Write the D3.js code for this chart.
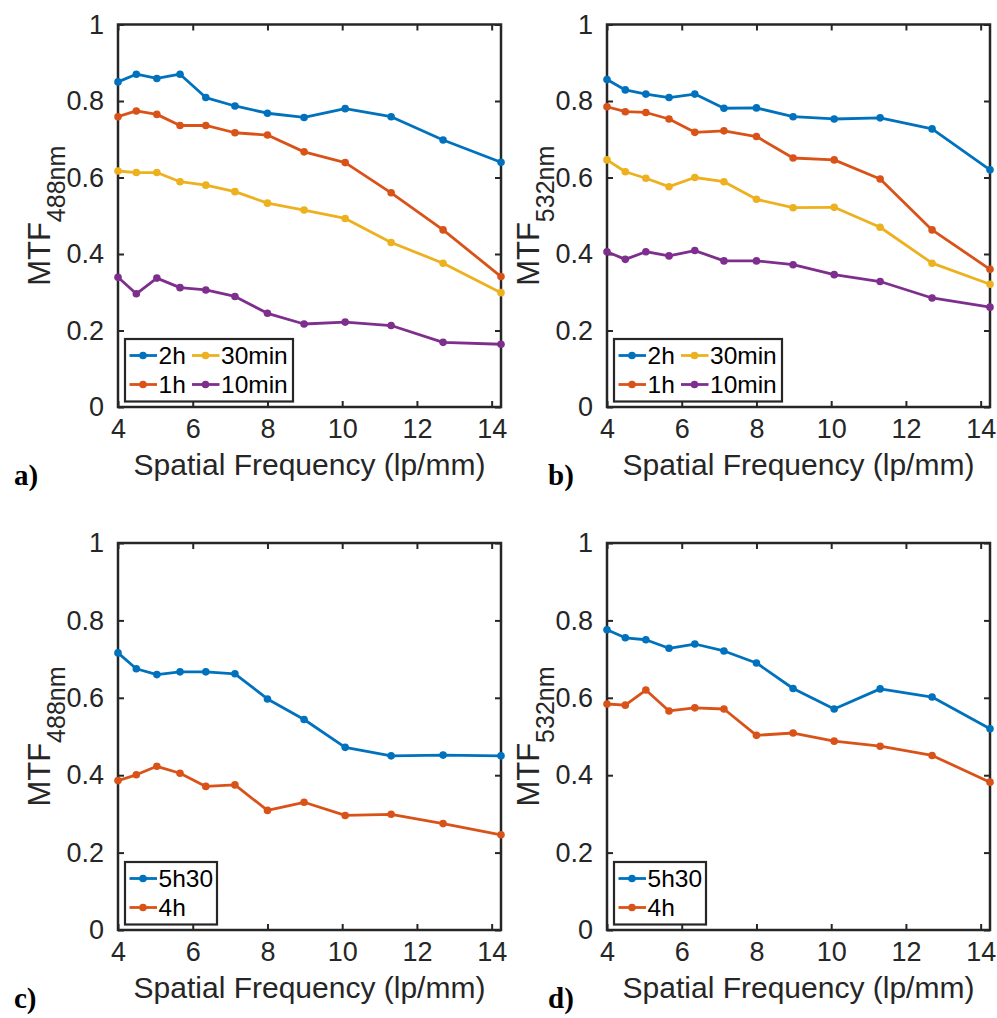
<!DOCTYPE html>
<html>
<head>
<meta charset="utf-8">
<script src="https://cdn.jsdelivr.net/npm/d3@7"></script>
<style>
  html, body { margin: 0; padding: 0; background: #ffffff; }
  svg { display: block; }
</style>
</head>
<body>
<svg id="fig" width="997" height="1018"></svg>
<script>
// Spatial frequencies of the USAF target elements (lp/mm)
const freq = [4, 4.49, 5.04, 5.66, 6.35, 7.13, 8, 8.98, 10.08, 11.31, 12.7, 14.25];

// Panel a: MTF at 488 nm
const a_2h    = [0.850, 0.870, 0.859, 0.870, 0.809, 0.787, 0.768, 0.757, 0.780, 0.759, 0.698, 0.640];
const a_1h    = [0.759, 0.774, 0.765, 0.736, 0.736, 0.717, 0.711, 0.667, 0.639, 0.560, 0.463, 0.341];
const a_30min = [0.617, 0.613, 0.613, 0.589, 0.580, 0.563, 0.533, 0.515, 0.493, 0.430, 0.376, 0.299];
const a_10min = [0.339, 0.296, 0.337, 0.312, 0.306, 0.289, 0.245, 0.217, 0.222, 0.213, 0.169, 0.164];

// Panel b: MTF at 532 nm
const b_2h    = [0.856, 0.829, 0.818, 0.809, 0.818, 0.781, 0.782, 0.759, 0.753, 0.756, 0.727, 0.620];
const b_1h    = [0.785, 0.772, 0.770, 0.753, 0.718, 0.722, 0.707, 0.651, 0.646, 0.596, 0.463, 0.360];
const b_30min = [0.646, 0.615, 0.598, 0.576, 0.600, 0.589, 0.543, 0.521, 0.522, 0.470, 0.376, 0.321];
const b_10min = [0.406, 0.386, 0.406, 0.395, 0.409, 0.382, 0.382, 0.372, 0.346, 0.328, 0.285, 0.261];

// Panel c: MTF at 488 nm
const c_5h30 = [0.716, 0.675, 0.660, 0.667, 0.667, 0.662, 0.597, 0.544, 0.472, 0.450, 0.452, 0.450];
const c_4h   = [0.386, 0.401, 0.423, 0.405, 0.371, 0.375, 0.309, 0.330, 0.296, 0.299, 0.275, 0.246];

// Panel d: MTF at 532 nm
const d_5h30 = [0.776, 0.755, 0.750, 0.728, 0.739, 0.721, 0.690, 0.624, 0.571, 0.623, 0.602, 0.520];
const d_4h   = [0.584, 0.581, 0.620, 0.566, 0.574, 0.571, 0.503, 0.509, 0.488, 0.475, 0.451, 0.382];

const xTicks = [4, 6, 8, 10, 12, 14];
const yTicks = [0, 0.2, 0.4, 0.6, 0.8, 1];
const yTickLabels = ["0", "0.2", "0.4", "0.6", "0.8", "1"];
const xLabel = "Spatial Frequency (lp/mm)";

const colors = { "2h": "#0072BD", "1h": "#D95319", "30min": "#EDB120", "10min": "#7E2F8E",
                 "5h30": "#0072BD", "4h": "#D95319" };

const panels = [
  { tag: "a)", tagX: 14, wl: "488nm", left: 118, top: 24.5, width: 383, height: 382.5,
    series: [["2h", a_2h], ["1h", a_1h], ["30min", a_30min], ["10min", a_10min]], cols: 2 },
  { tag: "b)", tagX: 548, wl: "532nm", left: 607, top: 24.5, width: 383, height: 382.5,
    series: [["2h", b_2h], ["1h", b_1h], ["30min", b_30min], ["10min", b_10min]], cols: 2 },
  { tag: "c)", tagX: 14, wl: "488nm", left: 118, top: 543, width: 383, height: 387,
    series: [["5h30", c_5h30], ["4h", c_4h]], cols: 1 },
  { tag: "d)", tagX: 548, wl: "532nm", left: 607, top: 543, width: 383, height: 387,
    series: [["5h30", d_5h30], ["4h", d_4h]], cols: 1 }
];

const svg = d3.select("#fig");
const ink = "#262626";
const sans = "'Liberation Sans', Arial, Helvetica, sans-serif";

panels.forEach(p => {
  const g = svg.append("g").attr("transform", `translate(${p.left},${p.top})`);
  const x = d3.scaleLinear().domain([4, 14.25]).range([0, p.width]);
  const y = d3.scaleLinear().domain([0, 1]).range([p.height, 0]);
  const tickLen = 6;

  // Bottom axis with inward ticks
  const bottom = g.append("g").attr("transform", `translate(0,${p.height})`)
    .call(d3.axisBottom(x).tickValues(xTicks).tickSizeInner(-tickLen).tickSizeOuter(0).tickPadding(12));
  // Top mirror ticks
  const top = g.append("g")
    .call(d3.axisTop(x).tickValues(xTicks).tickSizeInner(-tickLen).tickSizeOuter(0).tickFormat(""));
  // Left axis with inward ticks
  const left = g.append("g")
    .call(d3.axisLeft(y).tickValues(yTicks).tickSizeInner(-tickLen).tickSizeOuter(0).tickPadding(14)
      .tickFormat((d, i) => yTickLabels[i]));
  // Right mirror ticks
  const right = g.append("g").attr("transform", `translate(${p.width},0)`)
    .call(d3.axisRight(y).tickValues(yTicks).tickSizeInner(-tickLen).tickSizeOuter(0).tickFormat(""));

  [bottom, top, left, right].forEach(ax => {
    ax.select(".domain").remove();
    ax.selectAll(".tick line").attr("stroke", ink).attr("stroke-width", 2);
    ax.selectAll(".tick text").attr("fill", ink).style("font-family", sans).style("font-size", "27px");
  });
  bottom.selectAll(".tick text").attr("dy", "0.71em");

  // Box frame
  g.append("rect").attr("x", 0).attr("y", 0).attr("width", p.width).attr("height", p.height)
    .attr("fill", "none").attr("stroke", ink).attr("stroke-width", 2.5);

  // Data lines and markers
  const line = d3.line().x((d, i) => x(freq[i])).y(d => y(d));
  p.series.forEach(([name, vals]) => {
    g.append("path").datum(vals).attr("d", line)
      .attr("fill", "none").attr("stroke", colors[name]).attr("stroke-width", 2.8)
      .attr("stroke-linejoin", "round");
    g.selectAll(null).data(vals).enter().append("circle")
      .attr("cx", (d, i) => x(freq[i])).attr("cy", d => y(d)).attr("r", 3.8)
      .attr("fill", colors[name]);
  });

  // Legend
  const lg = g.append("g").attr("transform", `translate(7,${p.height - 68})`);
  const rowH = 29, nRows = 2;
  const colW = p.cols === 2 ? [0, 62.5] : [0];
  const boxW = p.cols === 2 ? 168 : 92;
  lg.append("rect").attr("x", 0).attr("y", 0).attr("width", boxW).attr("height", 62.5)
    .attr("fill", "#ffffff").attr("stroke", ink).attr("stroke-width", 2.2);
  p.series.forEach(([name], k) => {
    const c = Math.floor(k / nRows), r = k % nRows;
    const ox = colW[c] + 4.5, oy = 16.5 + r * rowH;
    lg.append("line").attr("x1", ox).attr("x2", ox + 27.5).attr("y1", oy).attr("y2", oy)
      .attr("stroke", colors[name]).attr("stroke-width", 2.8);
    lg.append("circle").attr("cx", ox + 13.5).attr("cy", oy).attr("r", 3.8).attr("fill", colors[name]);
    lg.append("text").attr("x", ox + 29).attr("y", oy).attr("dy", "0.36em")
      .attr("fill", "#000").style("font-family", sans).style("font-size", "24.5px").text(name);
  });

  // Axis labels
  g.append("text").attr("x", p.width / 2).attr("y", p.height + 68)
    .attr("text-anchor", "middle").attr("fill", ink)
    .style("font-family", sans).style("font-size", "30px").text(xLabel);

  const yl = g.append("text")
    .attr("transform", `translate(-68,${p.height / 2}) rotate(-90)`)
    .attr("text-anchor", "middle").attr("fill", ink).style("font-family", sans);
  yl.append("tspan").style("font-size", "31px").text("MTF");
  yl.append("tspan").attr("dy", 15).style("font-size", "25px").text(p.wl);

  // Panel tag
  svg.append("text").attr("x", p.tagX).attr("y", p.top + p.height + 78)
    .attr("fill", "#000").style("font-family", "'Liberation Serif', 'Times New Roman', serif")
    .style("font-weight", "bold").style("font-size", "29px").text(p.tag);
});
</script>
</body>
</html>
